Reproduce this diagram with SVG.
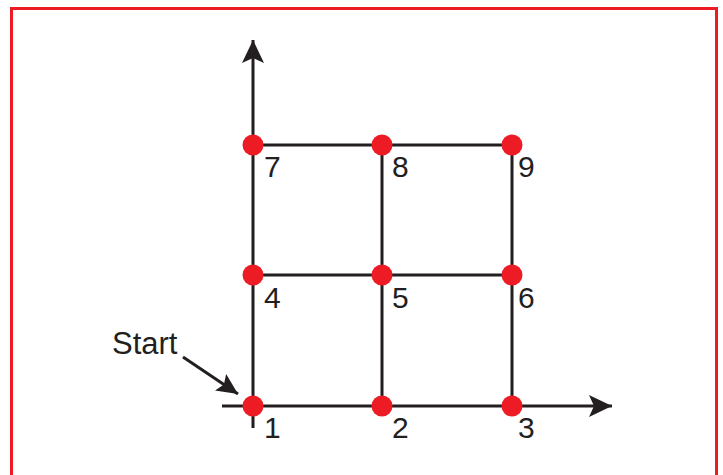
<svg xmlns="http://www.w3.org/2000/svg" width="723" height="475" viewBox="0 0 723 475">
<style>
.ln{stroke:#231f20;stroke-width:3;fill:none}
.dot{fill:#ed1c24}
.lbl{font-family:"Liberation Sans",Arial,sans-serif;font-size:30px;fill:#231f20}
</style>
<defs>
<marker id="ah" markerUnits="userSpaceOnUse" markerWidth="24" markerHeight="22" refX="23" refY="11" orient="auto">
<path d="M0,0 L23,11 L0,22 L5,11 Z" fill="#231f20"/>
</marker>
<marker id="ah2" markerUnits="userSpaceOnUse" markerWidth="22" markerHeight="20" refX="21" refY="10" orient="auto">
<path d="M0,0 L21,10 L0,20 L4,10 Z" fill="#231f20"/>
</marker>
</defs>
<rect x="11.5" y="8.5" width="705" height="480" fill="#fff" stroke="#ed1c24" stroke-width="3"/>
<g id="connectors">
<line class="ln" x1="253" y1="428" x2="253" y2="40" marker-end="url(#ah)"/>
<line class="ln" x1="222" y1="406" x2="612" y2="406" marker-end="url(#ah)"/>
<line class="ln" x1="253" y1="145" x2="512" y2="145"/>
<line class="ln" x1="253" y1="275" x2="512" y2="275"/>
<line class="ln" x1="382" y1="145" x2="382" y2="406"/>
<line class="ln" x1="512" y1="145" x2="512" y2="406"/>
<line class="ln" x1="183" y1="357" x2="238" y2="394" marker-end="url(#ah2)"/>
</g>
<text class="lbl" x="112" y="354" style="font-size:31px">Start</text>
<g id="n7"><circle class="dot" cx="253" cy="145" r="10.5"/><text class="lbl" x="264" y="177">7</text></g>
<g id="n8"><circle class="dot" cx="382" cy="145" r="10.5"/><text class="lbl" x="392" y="177">8</text></g>
<g id="n9"><circle class="dot" cx="512" cy="145" r="10.5"/><text class="lbl" x="518" y="177">9</text></g>
<g id="n4"><circle class="dot" cx="253" cy="275" r="10.5"/><text class="lbl" x="264" y="308">4</text></g>
<g id="n5"><circle class="dot" cx="382" cy="275" r="10.5"/><text class="lbl" x="392" y="308">5</text></g>
<g id="n6"><circle class="dot" cx="512" cy="275" r="10.5"/><text class="lbl" x="518" y="308">6</text></g>
<g id="n1"><circle class="dot" cx="253" cy="406" r="10.5"/><text class="lbl" x="264" y="438">1</text></g>
<g id="n2"><circle class="dot" cx="382" cy="406" r="10.5"/><text class="lbl" x="392" y="438">2</text></g>
<g id="n3"><circle class="dot" cx="512" cy="406" r="10.5"/><text class="lbl" x="518" y="438">3</text></g>
</svg>
